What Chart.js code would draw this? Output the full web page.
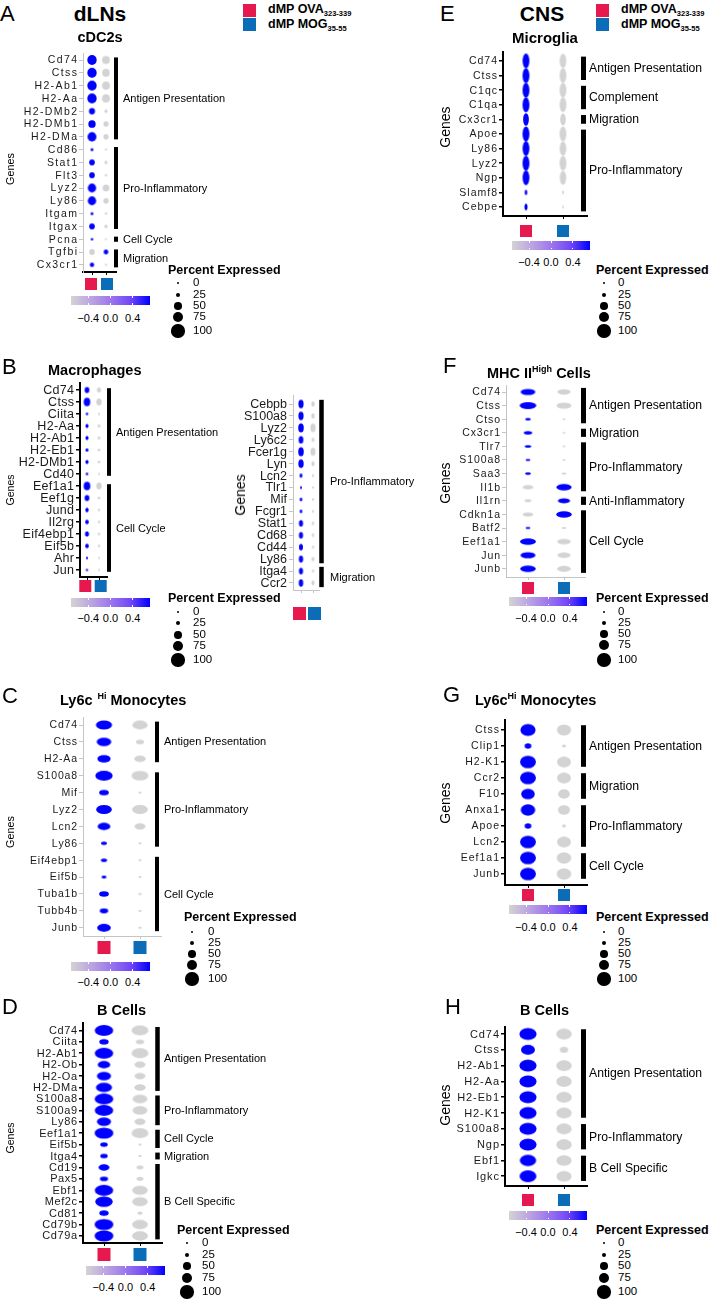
<!DOCTYPE html>
<html>
<head>
<meta charset="utf-8">
<title>Dot plots</title>
<script src="https://cdn.jsdelivr.net/npm/chart.js@4.4.1/dist/chart.umd.min.js"></script>
<style>
  body { margin: 0; background: #fff; }
  #fig { position: relative; width: 709px; height: 1303px; overflow: hidden; font-family: "Liberation Sans", Arial, sans-serif; color: #000; }
  .t { position: absolute; white-space: nowrap; line-height: 1; color: #000; }
  canvas { position: absolute; }
  sub { font-size: 7.5px; vertical-align: -3px; }
  sup { font-size: 9px; vertical-align: 6px; }
</style>
</head>
<body>
<div id="fig"></div>
<script>
// ---------- data (percent expressed per group, scaled expression of OVA; MOG = -OVA) ----------
const aGenes = ['Cd74','Ctss','H2-Ab1','H2-Aa','H2-DMb2','H2-DMb1','H2-DMa','Cd86','Stat1','Flt3','Lyz2','Ly86','Itgam','Itgax','Pcna','Tgfbi','Cx3cr1'];
const aOva = [66,66,66,66,36,48,62,8,33,33,57,57,8,33,4,33,21];
const aMog = [52,50,55,55,12,28,28,2,10,5,42,30,4,12,1,24,2];
const aZ = [.71,.71,.71,.71,.71,.71,.71,.71,.71,.71,.71,.71,.71,.71,.71,-.71,.71];
const aGroups = [['Antigen Presentation',0,6],['Pro-Inflammatory',7,13],['Cell Cycle',14,14],['Migration',15,16]];

const b1Genes = ['Cd74','Ctss','Ciita','H2-Aa','H2-Ab1','H2-Eb1','H2-DMb1','Cd40','Eef1a1','Eef1g','Jund','Il2rg','Eif4ebp1','Eif5b','Ahr','Jun'];
const b1Ova = [32,51,5,15,15,12,16,6,52,32,18,20,25,20,3,4];
const b1Mog = [25,38,2,10,10,8,8,1,38,8,5,5,6,5,1,1];
const b1Z = b1Genes.map(() => .71);
const b1Groups = [['Antigen Presentation',0,7],['Cell Cycle',8,15]];

const b2Genes = ['Cebpb','S100a8','Lyz2','Ly6c2','Fcer1g','Lyn','Lcn2','Tlr1','Mif','Fcgr1','Stat1','Cd68','Cd44','Ly86','Itga4','Ccr2'];
const b2Ova = [40,40,44,35,44,42,12,3,10,10,28,28,26,30,28,32];
const b2Mog = [20,20,40,13,38,18,4,1,2,3,8,8,7,14,6,16];
const b2Z = b2Genes.map(() => .71);
const b2Groups = [['Pro-Inflammatory',0,13],['Migration',14,15]];

const cGenes = ['Cd74','Ctss','H2-Aa','S100a8','Mif','Lyz2','Lcn2','Ly86','Eif4ebp1','Eif5b','Tuba1b','Tubb4b','Junb'];
const cOva = [85,75,67,93,44,82,64,20,22,14,44,36,70];
const cMog = [80,33,55,90,3,82,52,4,2,2,5,4,6];
const cZ = cGenes.map(() => .71);
const cGroups = [['Antigen Presentation',0,2],['Pro-Inflammatory',3,7],['Cell Cycle',8,12]];

const dGenes = ['Cd74','Ciita','H2-Ab1','H2-Ob','H2-Oa','H2-DMa','S100a8','S100a9','Ly86','Eef1a1','Eif5b','Itga4','Cd19','Pax5','Ebf1','Mef2c','Cd81','Cd79b','Cd79a'];
const dOva = [96,40,96,60,69,82,97,96,69,98,28,28,49,32,96,90,40,98,98];
const dMog = [86,32,86,49,49,52,74,74,50,85,3,3,24,24,78,78,15,80,80];
const dZ = dGenes.map(() => .71);
const dGroups = [['Antigen Presentation',0,5],['Pro-Inflammatory',6,8],['Cell Cycle',9,10],['Migration',11,11],['B Cell Specific',12,18]];

const eGenes = ['Cd74','Ctss','C1qc','C1qa','Cx3cr1','Apoe','Ly86','Lyz2','Ngp','Slamf8','Cebpe'];
const eOva = [80,82,82,82,65,82,80,82,80,20,26];
const eMog = [78,80,80,80,62,80,78,80,75,8,4];
const eZ = eGenes.map(() => .71);
const eGroups = [['Antigen Presentation',0,1],['Complement',2,3],['Migration',4,4],['Pro-Inflammatory',5,10]];

const fGenes = ['Cd74','Ctss','Ctso','Cx3cr1','Tlr7','S100a8','Saa3','Il1b','Il1rn','Cdkn1a','Batf2','Eef1a1','Jun','Junb'];
const fOva = [72,84,17,34,22,13,18,49,24,45,13,80,74,78];
const fMog = [62,73,4,4,4,5,13,76,57,78,10,65,62,68];
const fZ = [.71,.71,.71,.71,.71,.71,.71,-.71,-.71,-.71,.71,.71,.71,.71];
const fGroups = [['Antigen Presentation',0,2],['Migration',3,3],['Pro-Inflammatory',4,7],['Anti-Inflammatory',8,8],['Cell Cycle',9,13]];

const gGenes = ['Ctss','Clip1','H2-K1','Ccr2','F10','Anxa1','Apoe','Lcn2','Eef1a1','Junb'];
const gOva = [95,32,100,100,83,90,32,100,100,100];
const gMog = [87,12,85,85,70,72,10,85,90,90];
const gZ = gGenes.map(() => .71);
const gGroups = [['Antigen Presentation',0,2],['Migration',3,4],['Pro-Inflammatory',5,7],['Cell Cycle',8,9]];

const hGenes = ['Cd74','Ctss','H2-Ab1','H2-Aa','H2-Eb1','H2-K1','S100a8','Ngp','Ebf1','Igkc'];
const hOva = [100,78,100,100,100,100,100,100,95,98];
const hMog = [88,40,88,88,88,88,88,88,86,86];
const hZ = hGenes.map(() => .71);
const hGroups = [['Antigen Presentation',0,5],['Pro-Inflammatory',6,7],['B Cell Specific',8,9]];

const sizeBreaks = [0, 25, 50, 75, 100];
const colorTicks = [-0.4, 0, 0.4];

// ---------- helpers ----------
const FONT = '"Liberation Sans", Arial, sans-serif';
const PINK = '#E5194E', BLUE = '#0B6DB7';
const GREY_AX = '#c4c4c4';
const STOPS = [[211,211,211],[188,165,225],[157,119,236],[114,72,246],[0,0,255]];
const fig = document.getElementById('fig');

function rad(p) { return 1 + 0.056 * p; }

function zColor(z) {
  const t = Math.max(0, Math.min(1, (z + 0.71) / 1.42)) * (STOPS.length - 1);
  const i = Math.min(STOPS.length - 2, Math.floor(t)), f = t - i;
  const c = STOPS[i].map((v, k) => Math.round(v + (STOPS[i + 1][k] - v) * f));
  return `rgb(${c[0]},${c[1]},${c[2]})`;
}

const imgCache = {};
function dotImg(rx, ry, col) {
  const key = rx.toFixed(2) + '_' + ry.toFixed(2) + col;
  if (imgCache[key]) return imgCache[key];
  const c = document.createElement('canvas');
  c.width = Math.ceil(rx * 2) + 2;
  c.height = Math.ceil(ry * 2) + 2;
  const g = c.getContext('2d');
  g.fillStyle = col;
  g.beginPath();
  g.ellipse(c.width / 2, c.height / 2, rx, ry, 0, 0, Math.PI * 2);
  g.fill();
  imgCache[key] = c;
  return c;
}

// right-aligned text with manual letter spacing (ggplot export looks tracked)
function spacedText(ctx, s, xRight, y, ls) {
  const ws = [...s].map(ch => ctx.measureText(ch).width);
  let x = xRight - (ws.reduce((a, b) => a + b, 0) + ls * (ws.length - 1));
  [...s].forEach((ch, i) => { ctx.fillText(ch, x, y); x += ws[i] + ls; });
}

function txt(x, y, html, size, o = {}) {
  const d = document.createElement('div');
  d.className = 't';
  d.innerHTML = html;
  d.style.left = x + 'px';
  d.style.top = y + 'px';
  d.style.fontSize = size + 'px';
  if (o.bold) d.style.fontWeight = 'bold';
  d.style.transform = o.rot ? 'translate(-50%,-50%) rotate(-90deg)' : (o.center ? 'translate(-50%,-50%)' : 'translateY(-50%)');
  fig.appendChild(d);
  return d;
}

function box(x, y, w, h, bg, extra = '') {
  const d = document.createElement('div');
  d.style.cssText = `position:absolute;left:${x}px;top:${y}px;width:${w}px;height:${h}px;background:${bg};${extra}`;
  fig.appendChild(d);
  return d;
}

function colorbar(x, y, w, h, labY) {
  const grad = STOPS.map((c, i) => `rgb(${c.join(',')}) ${i * 25}%`).join(',');
  box(x, y, w, h, `linear-gradient(to right, ${grad})`);
  const k = w / 1.42, c = x + w / 2;
  colorTicks.forEach(v => {
    const px = c + v * k;
    box(px - 0.5, y, 1, h * 0.22, '#fff');
    box(px - 0.5, y + h * 0.78, 1, h * 0.22, '#fff');
    txt(px, labY, v === 0 ? '0.0' : (v < 0 ? '\u22120.4' : '0.4'), 11, { center: true });
  });
}

function sizeLegend(tx, ty, dx, rows, lx) {
  txt(tx, ty, 'Percent Expressed', 12.5, { bold: true });
  sizeBreaks.forEach((v, i) => {
    const r = rad(v);
    box(dx - r, rows[i] - r, 2 * r, 2 * r, '#000', 'border-radius:50%');
    txt(lx, rows[i], String(v), 11.5);
  });
}

function groupLegend(x, y) {
  box(x, y, 13, 13, PINK);
  box(x, y + 14, 13, 13, BLUE);
  txt(x + 25, y + 6, '<b>dMP OVA<sub>323-339</sub></b>', 12.5);
  txt(x + 25, y + 21, '<b>dMP MOG<sub>35-55</sub></b>', 12.5);
}

// ---------- one dot plot per panel, drawn with Chart.js ----------
function dotPanel(p) {
  const left = p.axX - 80, top = p.top - 10;
  const right = p.cvR, bottom = p.sqY + p.sqS + 3;
  const cv = document.createElement('canvas');
  cv.width = right - left; cv.height = bottom - top;
  cv.style.left = left + 'px'; cv.style.top = top + 'px';
  cv.style.width = (right - left) + 'px'; cv.style.height = (bottom - top) + 'px';
  fig.appendChild(cv);

  const xRange = (p.axR - p.axX) / (p.xM - p.xO);
  const xMin = 1 - (p.xO - p.axX) / (p.xM - p.xO);
  const pts = (vals, xv, sign) => p.genes.map((g, i) => ({
    x: xv, y: i, r: rad(vals[i]) * Math.max(p.sx, p.sy), pct: vals[i], z: sign * p.z[i]
  }));
  const style = c => c.raw ? dotImg(rad(c.raw.pct) * p.sx, rad(c.raw.pct) * p.sy, zColor(c.raw.z)) : 'circle';

  const annot = {
    id: 'annot' + p.id,
    afterDraw(ch) {
      const ctx = ch.ctx, ys = ch.scales.y, xs = ch.scales.x;
      ctx.save();
      // gene labels on the y scale
      ctx.fillStyle = '#1a1a1a';
      ctx.font = `${p.lf}px ${FONT}`;
      ctx.textBaseline = 'middle';
      ctx.textAlign = 'left';
      p.genes.forEach((g, i) => spacedText(ctx, g, p.axX - left - 6, ys.getPixelForValue(i) + 0.5, p.ls));
      // group brackets and names
      ctx.fillStyle = '#000';
      ctx.font = `${p.gf}px ${FONT}`;
      p.groups.forEach(([name, a, b]) => {
        const y1 = ys.getPixelForValue(a - p.pad), y2 = ys.getPixelForValue(b + p.pad);
        ctx.fillRect(p.brX - left - p.brW / 2, y1, p.brW, y2 - y1);
        ctx.fillText(name, p.labX - left, (y1 + y2) / 2 + 0.5);
      });
      // group colour keys under the x axis
      [PINK, BLUE].forEach((col, k) => {
        const cx = xs.getPixelForValue(k + 1) + (k ? p.sqOff : -p.sqOff);
        ctx.fillStyle = col;
        ctx.fillRect(cx - p.sqS / 2, p.sqY - top, p.sqS, p.sqS);
      });
      ctx.restore();
    }
  };

  new Chart(cv, {
    type: 'bubble',
    data: {
      datasets: [
        { label: 'OVA', data: pts(p.ova, 1, 1), pointStyle: style, clip: false },
        { label: 'MOG', data: pts(p.mog, 2, -1), pointStyle: style, clip: false }
      ]
    },
    options: {
      responsive: false, animation: false, devicePixelRatio: 1, events: [],
      layout: { padding: { left: 0, top: p.top - top, right: right - p.axR, bottom: 0 } },
      plugins: { legend: { display: false }, tooltip: { enabled: false } },
      scales: {
        x: {
          type: 'linear', min: xMin, max: xMin + xRange,
          afterBuildTicks: s => { s.ticks = [{ value: 1 }, { value: 2 }]; },
          afterFit: s => { s.height = bottom - p.bot; },
          ticks: { display: false },
          grid: { drawOnChartArea: false, tickLength: 3, color: p.xCol, lineWidth: 1 },
          border: { color: p.xCol, width: p.xW }
        },
        y: {
          type: 'linear', reverse: true,
          min: (p.top - p.y0) / p.sp, max: (p.bot - p.y0) / p.sp,
          afterBuildTicks: s => { s.ticks = p.genes.map((g, i) => ({ value: i })); },
          afterFit: s => { s.width = p.axX - left; },
          ticks: { display: false },
          grid: { drawOnChartArea: false, tickLength: 4, color: p.yCol, lineWidth: p.tW },
          border: { color: p.yCol, width: p.yW }
        }
      }
    },
    plugins: [annot]
  });
}

// ---------- panels ----------
const panels = [
  { id: 'A', genes: aGenes, ova: aOva, mog: aMog, z: aZ, groups: aGroups,
    axX: 83, axR: 116, top: 53, bot: 272, y0: 60, sp: 12.8, xO: 92, xM: 106,
    brX: 116, brW: 4, labX: 123, gf: 11, pad: 0.2, lf: 10.5, ls: 1.4, sx: 1, sy: 1.05,
    yCol: GREY_AX, yW: 1, xCol: '#000', xW: 2, tW: 1, sqY: 278, sqS: 12, sqOff: 1, cvR: 240 },
  { id: 'B1', genes: b1Genes, ova: b1Ova, mog: b1Mog, z: b1Z, groups: b1Groups,
    axX: 80, axR: 107, top: 383, bot: 577, y0: 390, sp: 12, xO: 87, xM: 99,
    brX: 109, brW: 4, labX: 116, gf: 11, pad: 0.15, lf: 12.5, ls: 0.3, sx: 0.85, sy: 1.1,
    yCol: '#000', yW: 2, xCol: '#000', xW: 2, tW: 1.5, sqY: 580, sqS: 12, sqOff: 1.7, cvR: 225 },
  { id: 'B2', genes: b2Genes, ova: b2Ova, mog: b2Mog, z: b2Z, groups: b2Groups,
    axX: 293, axR: 319, top: 395, bot: 590, y0: 404, sp: 11.93, xO: 301, xM: 313,
    brX: 321.5, brW: 4.5, labX: 330, gf: 11, pad: 0.35, lf: 12.5, ls: 0, sx: 0.8, sy: 1.3,
    yCol: GREY_AX, yW: 1, xCol: GREY_AX, xW: 1, tW: 1, sqY: 607, sqS: 13, sqOff: 1.5, cvR: 430 },
  { id: 'C', genes: cGenes, ova: cOva, mog: cMog, z: cZ, groups: cGroups,
    axX: 83, axR: 161, top: 717, bot: 936, y0: 725, sp: 16.9, xO: 104, xM: 140,
    brX: 157, brW: 4, labX: 164, gf: 11, pad: 0.2, lf: 10.5, ls: 0.8, sx: 1.4, sy: 0.8,
    yCol: GREY_AX, yW: 1, xCol: GREY_AX, xW: 1, tW: 1, sqY: 941, sqS: 13, sqOff: 0, cvR: 270 },
  { id: 'D', genes: dGenes, ova: dOva, mog: dMog, z: dZ, groups: dGroups,
    axX: 83, axR: 162, top: 1023, bot: 1243, y0: 1030, sp: 11.44, xO: 104, xM: 140,
    brX: 157.5, brW: 4.5, labX: 164, gf: 11, pad: 0.3, lf: 11, ls: 0.6, sx: 1.45, sy: 0.85,
    yCol: '#000', yW: 2, xCol: '#000', xW: 2, tW: 1.5, sqY: 1248, sqS: 13, sqOff: 0, cvR: 270 },
  { id: 'E', genes: eGenes, ova: eOva, mog: eMog, z: eZ, groups: eGroups,
    axX: 503, axR: 587, top: 52, bot: 216, y0: 61, sp: 14.6, xO: 526, xM: 563,
    brX: 583.5, brW: 5, labX: 589, gf: 12.2, pad: 0.3, lf: 10.5, ls: 1, sx: 0.62, sy: 1.35,
    yCol: '#000', yW: 2, xCol: '#000', xW: 2, tW: 1.5, sqY: 225, sqS: 12, sqOff: 0, cvR: 709 },
  { id: 'F', genes: fGenes, ova: fOva, mog: fMog, z: fZ, groups: fGroups,
    axX: 506, axR: 585, top: 385, bot: 577, y0: 392, sp: 13.6, xO: 528, xM: 564,
    brX: 583.5, brW: 5, labX: 589, gf: 12.2, pad: 0.3, lf: 10.5, ls: 0.9, sx: 1.45, sy: 0.6,
    yCol: GREY_AX, yW: 1, xCol: GREY_AX, xW: 1, tW: 1, sqY: 582, sqS: 12, sqOff: 0, cvR: 709 },
  { id: 'G', genes: gGenes, ova: gOva, mog: gMog, z: gZ, groups: gGroups,
    axX: 505, axR: 587, top: 720, bot: 885, y0: 730, sp: 16, xO: 528, xM: 564,
    brX: 583.5, brW: 5, labX: 589, gf: 12.2, pad: 0.3, lf: 10.5, ls: 1, sx: 1.2, sy: 0.95,
    yCol: '#000', yW: 2, xCol: '#000', xW: 2, tW: 1.5, sqY: 889, sqS: 12, sqOff: 0, cvR: 709 },
  { id: 'H', genes: hGenes, ova: hOva, mog: hMog, z: hZ, groups: hGroups,
    axX: 505, axR: 587, top: 1027, bot: 1186, y0: 1034, sp: 15.8, xO: 528, xM: 564,
    brX: 583.5, brW: 5, labX: 589, gf: 12.2, pad: 0.3, lf: 11, ls: 0.9, sx: 1.3, sy: 0.92,
    yCol: '#000', yW: 2, xCol: '#000', xW: 2, tW: 1.5, sqY: 1194, sqS: 12, sqOff: 0, cvR: 709 }
];
panels.forEach(dotPanel);

// ---------- titles, axis titles, legends ----------
txt(0, 14, 'A', 22);
txt(100, 13, 'dLNs', 21, { bold: true, center: true });
groupLegend(243, 4);
txt(100, 37, 'cDC2s', 14.5, { bold: true, center: true });
txt(10, 169, 'Genes', 10.8, { rot: true });
colorbar(71, 296, 79, 9, 318);
sizeLegend(168, 270, 178, [283, 295, 306, 317, 331], 193);

txt(2, 367, 'B', 22);
txt(48, 370, 'Macrophages', 14.5, { bold: true });
txt(10, 490, 'Genes', 10.5, { rot: true });
txt(240, 495, 'Genes', 14, { rot: true });
colorbar(71, 598, 79, 9, 618);
sizeLegend(168, 598, 178, [612, 623, 635, 646, 660], 193);

txt(2, 696, 'C', 22);
txt(60, 700, 'Ly6c<sup style="margin-left:5px">Hi</sup> Monocytes', 14.5, { bold: true });
txt(10, 832, 'Genes', 10.8, { rot: true });
colorbar(71, 962, 79, 9, 982);
sizeLegend(184, 917, 192, [932, 943, 954, 965, 979], 208);

txt(2, 1007, 'D', 22);
txt(97, 1010, 'B Cells', 14.5, { bold: true });
txt(10, 1138, 'Genes', 10.5, { rot: true });
colorbar(86, 1266, 79, 9, 1287);
sizeLegend(177, 1230, 187, [1243, 1255, 1266, 1278, 1292], 202);

txt(440, 14, 'E', 22);
txt(542, 13, 'CNS', 21, { bold: true, center: true });
groupLegend(596, 4);
txt(545, 37, 'Microglia', 15, { bold: true, center: true });
txt(445, 127, 'Genes', 14, { rot: true });
colorbar(512, 241, 78, 8.5, 262);
sizeLegend(596, 270, 604, [283, 295, 306, 317, 331], 618);

txt(443, 366, 'F', 22);
txt(487, 373, 'MHC II<sup>High</sup> Cells', 14.5, { bold: true });
txt(445, 483, 'Genes', 14, { rot: true });
colorbar(509, 597, 78, 8.5, 618);
sizeLegend(596, 598, 604, [612, 623, 634, 645, 660], 618);

txt(443, 695, 'G', 22);
txt(475, 700, 'Ly6c<sup>Hi</sup> Monocytes', 14.5, { bold: true });
txt(445, 803, 'Genes', 14, { rot: true });
colorbar(509, 905, 78, 8.5, 927);
sizeLegend(596, 917, 604, [932, 943, 954, 965, 979], 618);

txt(445, 1007, 'H', 22);
txt(520, 1010, 'B Cells', 14.5, { bold: true });
txt(445, 1105, 'Genes', 14, { rot: true });
colorbar(509, 1211, 78, 8.5, 1232);
sizeLegend(596, 1230, 604, [1243, 1255, 1266, 1278, 1292], 618);
</script>
</body>
</html>
